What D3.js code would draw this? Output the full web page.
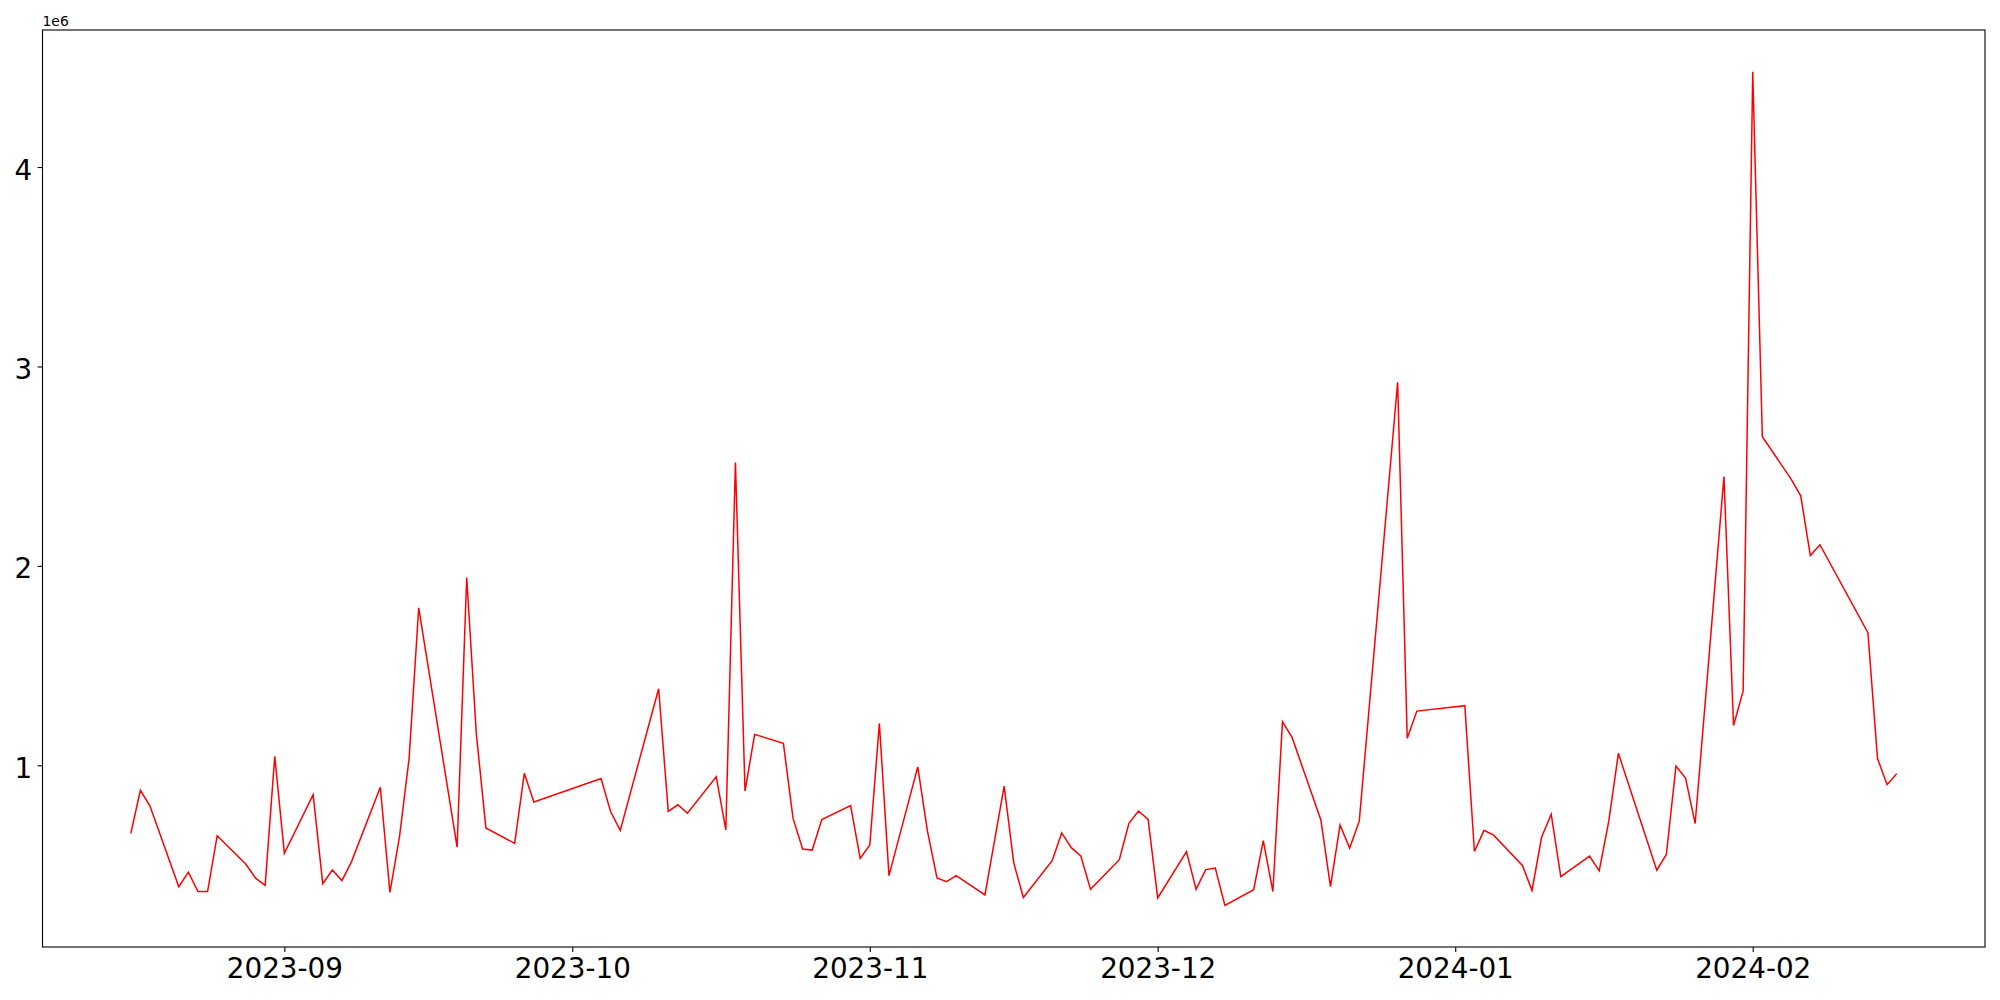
<!DOCTYPE html>
<html>
<head>
<meta charset="utf-8">
<script src="https://cdn.jsdelivr.net/npm/d3@7"></script>
<style>
  html, body { margin: 0; padding: 0; background: #ffffff; }
  svg { display: block; }
</style>
</head>
<body>
<svg id="chart" width="2000" height="1000"></svg>
<script>
// ---- data ----
const dates = [
  "2023-08-16","2023-08-17","2023-08-18","2023-08-21","2023-08-22","2023-08-23","2023-08-24","2023-08-25",
  "2023-08-28","2023-08-29","2023-08-30","2023-08-31","2023-09-01","2023-09-04","2023-09-05","2023-09-06",
  "2023-09-07","2023-09-08","2023-09-11","2023-09-12","2023-09-13","2023-09-14","2023-09-15","2023-09-19",
  "2023-09-20","2023-09-21","2023-09-22","2023-09-25","2023-09-26","2023-09-27","2023-10-04","2023-10-05",
  "2023-10-06","2023-10-10","2023-10-11","2023-10-12","2023-10-13","2023-10-16","2023-10-17","2023-10-18",
  "2023-10-19","2023-10-20","2023-10-23","2023-10-24","2023-10-25","2023-10-26","2023-10-27","2023-10-30",
  "2023-10-31","2023-11-01","2023-11-02","2023-11-03","2023-11-06","2023-11-07","2023-11-08","2023-11-09",
  "2023-11-10","2023-11-13","2023-11-15","2023-11-16","2023-11-17","2023-11-20","2023-11-21","2023-11-22",
  "2023-11-23","2023-11-24","2023-11-27","2023-11-28","2023-11-29","2023-11-30","2023-12-01","2023-12-04",
  "2023-12-05","2023-12-06","2023-12-07","2023-12-08","2023-12-11","2023-12-12","2023-12-13","2023-12-14",
  "2023-12-15","2023-12-18","2023-12-19","2023-12-20","2023-12-21","2023-12-22","2023-12-26","2023-12-27",
  "2023-12-28","2024-01-02","2024-01-03","2024-01-04","2024-01-05","2024-01-08","2024-01-09","2024-01-10",
  "2024-01-11","2024-01-12","2024-01-15","2024-01-16","2024-01-17","2024-01-18","2024-01-22","2024-01-23",
  "2024-01-24","2024-01-25","2024-01-26","2024-01-29","2024-01-30","2024-01-31","2024-02-01","2024-02-02",
  "2024-02-05","2024-02-06","2024-02-07","2024-02-08","2024-02-13","2024-02-14","2024-02-15","2024-02-16"
];
const values = [
  659000, 875000, 796000, 391000, 464000, 367000, 367000, 647000,
  504000, 434000, 398000, 1045000, 559000, 853000, 407000, 475000,
  422000, 517000, 890000, 363000, 642000, 1035000, 1790000, 590000,
  1942000, 1160000, 686000, 609000, 960000, 816000, 934000, 767000,
  674000, 1384000, 769000, 802000, 760000, 943000, 676000, 2518000,
  871000, 1155000, 1110000, 735000, 580000, 575000, 728000, 798000,
  533000, 601000, 1210000, 447000, 992000, 672000, 435000, 417000,
  447000, 350000, 896000, 511000, 337000, 522000, 661000, 587000,
  544000, 378000, 527000, 709000, 771000, 729000, 335000, 567000,
  378000, 477000, 485000, 298000, 376000, 622000, 367000, 1219000,
  1140000, 726000, 392000, 701000, 585000, 720000, 2921000, 1136000,
  1272000, 1299000, 568000, 674000, 650000, 498000, 373000, 639000,
  755000, 442000, 545000, 471000, 720000, 1060000, 474000, 553000,
  996000, 936000, 708000, 2448000, 1200000, 1373000, 4478000, 2648000,
  2435000, 2351000, 2052000, 2106000, 1665000, 1034000, 903000, 958000
];
const xTickDates = ["2023-09-01","2023-10-01","2023-11-01","2023-12-01","2024-01-01","2024-02-01"];
const xTickLabels = ["2023-09","2023-10","2023-11","2023-12","2024-01","2024-02"];
const yTickValues = [1000000, 2000000, 3000000, 4000000];
const yTickLabels = ["1","2","3","4"];
const offsetLabel = "1e6";

// ---- layout ----
const svg = d3.select("#chart");
const margin = {left: 42.5, right: 15, top: 30, bottom: 53};
const W = 2000, H = 1000;
const x0 = margin.left, x1 = W - margin.right, y0 = margin.top, y1 = H - margin.bottom;

const parse = d3.utcParse("%Y-%m-%d");
const data = dates.map((d, i) => ({date: parse(d), value: values[i]}));

const tExt = d3.extent(data, d => d.date);
const tSpan = tExt[1] - tExt[0];
const x = d3.scaleUtc()
  .domain([new Date(+tExt[0] - 0.05 * tSpan), new Date(+tExt[1] + 0.05 * tSpan)])
  .range([x0, x1]);

const vExt = d3.extent(values);
const vSpan = vExt[1] - vExt[0];
const y = d3.scaleLinear()
  .domain([vExt[0] - 0.05 * vSpan, vExt[1] + 0.05 * vSpan])
  .range([y1, y0]);

const font = "'DejaVu Sans', sans-serif";

// line
const line = d3.line().x(d => x(d.date)).y(d => y(d.value));
svg.append("path")
  .datum(data)
  .attr("d", line)
  .attr("fill", "none")
  .attr("stroke", "#ff0000")
  .attr("stroke-width", 1.5)
  .attr("stroke-linejoin", "miter");

// frame
svg.append("rect")
  .attr("x", x0).attr("y", y0)
  .attr("width", x1 - x0).attr("height", y1 - y0)
  .attr("fill", "none").attr("stroke", "#000").attr("stroke-width", 1.1);

// x axis
const xAxis = d3.axisBottom(x)
  .tickValues(xTickDates.map(parse))
  .tickFormat((d, i) => xTickLabels[i])
  .tickSize(4.9)
  .tickPadding(4.5);
const gx = svg.append("g").attr("transform", `translate(0,${y1})`).call(xAxis);
gx.select(".domain").remove();
gx.selectAll(".tick line").attr("stroke", "#000").attr("stroke-width", 1.1);
gx.selectAll(".tick text")
  .attr("font-family", font).attr("font-size", "27.8px").attr("fill", "#000")
  .attr("dy", null).attr("y", 31).attr("dominant-baseline", "alphabetic");

// y axis
const yAxis = d3.axisLeft(y)
  .tickValues(yTickValues)
  .tickFormat((d, i) => yTickLabels[i])
  .tickSize(4.9)
  .tickPadding(5.5);
const gy = svg.append("g").attr("transform", `translate(${x0},0)`).call(yAxis);
gy.select(".domain").remove();
gy.selectAll(".tick line").attr("stroke", "#000").attr("stroke-width", 1.1);
gy.selectAll(".tick text")
  .attr("font-family", font).attr("font-size", "27.8px").attr("fill", "#000")
  .attr("dy", null).attr("y", 12).attr("dominant-baseline", "alphabetic");

// offset text
svg.append("text")
  .attr("x", x0).attr("y", y0 - 4)
  .attr("font-family", font).attr("font-size", "13.9px").attr("fill", "#000")
  .text(offsetLabel);
</script>
</body>
</html>
